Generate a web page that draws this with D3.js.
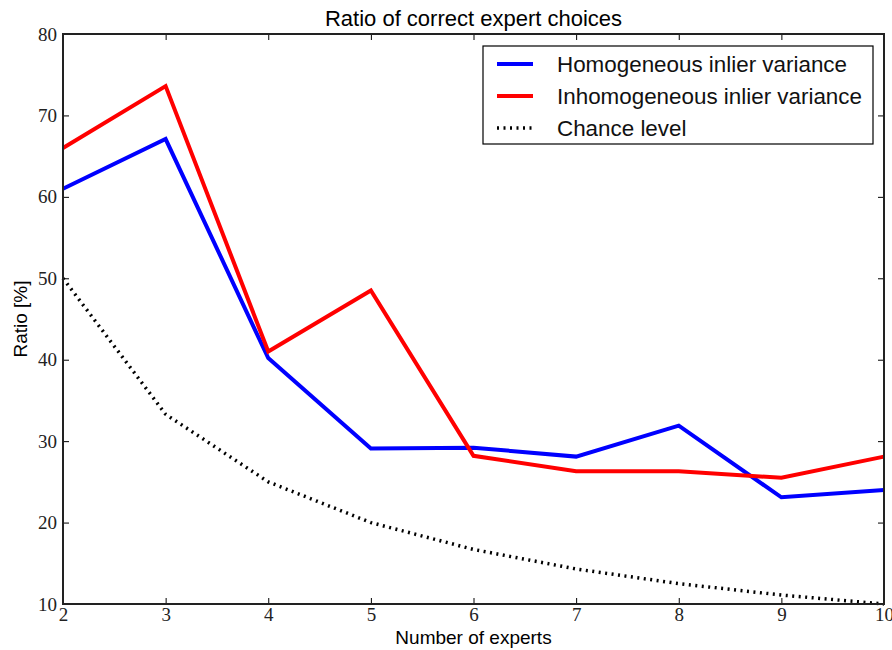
<!DOCTYPE html>
<html>
<head>
<style>
  body { margin: 0; background: #fff; }
  .tick text { font-family: "Liberation Serif", "DejaVu Serif", serif; font-size: 19px; fill: #222; }
</style>
</head>
<body>
<svg id="chart" width="892" height="650"></svg>
<script src="https://d3js.org/d3.v7.min.js"></script>
<script>
// chart values
var experts = [2, 3, 4, 5, 6, 7, 8, 9, 10];
var homogeneous = [61.0, 67.1, 40.2, 29.1, 29.2, 28.1, 31.9, 23.1, 24.0];
var inhomogeneous = [66.0, 73.6, 41.0, 48.5, 28.2, 26.3, 26.3, 25.5, 28.1];
var chance = [50.0, 33.3, 25.0, 20.0, 16.7, 14.3, 12.5, 11.1, 10.0];
var yTicks = [10, 20, 30, 40, 50, 60, 70, 80];
var seriesNames = ["Homogeneous inlier variance", "Inhomogeneous inlier variance", "Chance level"];

var plotLeft = 63, plotRight = 884, plotTop = 34, plotBottom = 604;
var sans = "Liberation Sans, Arial, sans-serif";
var svg = d3.select("#chart");

var x = d3.scaleLinear().domain([2, 10]).range([plotLeft, plotRight]);
var y = d3.scaleLinear().domain([10, 80]).range([plotBottom, plotTop]);

// axes, ticks pointing inwards on all four sides
function styleAxis(g) {
  g.select(".domain").remove();
  g.selectAll(".tick line").attr("stroke", "#000");
}
svg.append("g").attr("transform", "translate(0," + plotBottom + ")")
  .call(d3.axisBottom(x).tickValues(experts).tickFormat(d3.format("d")).tickSizeInner(-6).tickPadding(3))
  .call(styleAxis);
svg.append("g").attr("transform", "translate(0," + plotTop + ")")
  .call(d3.axisTop(x).tickValues(experts).tickFormat("").tickSizeInner(-6))
  .call(styleAxis);
svg.append("g").attr("transform", "translate(" + plotLeft + ",0)")
  .call(d3.axisLeft(y).tickValues(yTicks).tickFormat(d3.format("d")).tickSizeInner(-6).tickPadding(6))
  .call(styleAxis);
svg.append("g").attr("transform", "translate(" + plotRight + ",0)")
  .call(d3.axisRight(y).tickValues(yTicks).tickFormat("").tickSizeInner(-6))
  .call(styleAxis);

var line = d3.line().x(function(d) { return x(d[0]); }).y(function(d) { return y(d[1]); });
function pairs(vals) { return experts.map(function(e, i) { return [e, vals[i]]; }); }

var plot = svg.append("g");
plot.append("path").datum(pairs(chance)).attr("d", line)
  .attr("fill", "none").attr("stroke", "#000").attr("stroke-width", 3.5).attr("stroke-dasharray", "2,4.5");
plot.append("path").datum(pairs(homogeneous)).attr("d", line)
  .attr("fill", "none").attr("stroke", "#0000ff").attr("stroke-width", 4);
plot.append("path").datum(pairs(inhomogeneous)).attr("d", line)
  .attr("fill", "none").attr("stroke", "#ff0000").attr("stroke-width", 4);

// frame
svg.append("rect").attr("x", plotLeft).attr("y", plotTop)
  .attr("width", plotRight - plotLeft).attr("height", plotBottom - plotTop)
  .attr("fill", "none").attr("stroke", "#222").attr("stroke-width", 2);

// titles
svg.append("text").attr("x", (plotLeft + plotRight) / 2).attr("y", 26).attr("text-anchor", "middle")
  .style("font-family", sans).style("font-size", "22px")
  .text("Ratio of correct expert choices");
svg.append("text").attr("x", (plotLeft + plotRight) / 2).attr("y", 644).attr("text-anchor", "middle")
  .style("font-family", sans).style("font-size", "19px")
  .text("Number of experts");
svg.append("text").attr("transform", "translate(27," + (plotTop + plotBottom) / 2 + ") rotate(-90)")
  .attr("text-anchor", "middle")
  .style("font-family", sans).style("font-size", "19px")
  .text("Ratio [%]");

// legend
var legend = svg.append("g").attr("transform", "translate(483,46)");
legend.append("rect").attr("width", 390).attr("height", 98)
  .attr("fill", "#fff").attr("stroke", "#000").attr("stroke-width", 1.2);
var legendStyles = [
  { color: "#0000ff", width: 4, dash: null },
  { color: "#ff0000", width: 4, dash: null },
  { color: "#000", width: 3.5, dash: "2,4.5" }
];
var rows = legend.selectAll("g.row").data(seriesNames).enter().append("g")
  .attr("transform", function(d, i) { return "translate(0," + (18 + i * 32) + ")"; });
rows.append("line").attr("x1", 14).attr("x2", 50)
  .attr("stroke", function(d, i) { return legendStyles[i].color; })
  .attr("stroke-width", function(d, i) { return legendStyles[i].width; })
  .attr("stroke-dasharray", function(d, i) { return legendStyles[i].dash; });
rows.append("text").attr("x", 74).attr("dy", "0.36em")
  .style("font-family", sans).style("font-size", "22.4px").attr("fill", "#111")
  .text(function(d) { return d; });
</script>
</body>
</html>
